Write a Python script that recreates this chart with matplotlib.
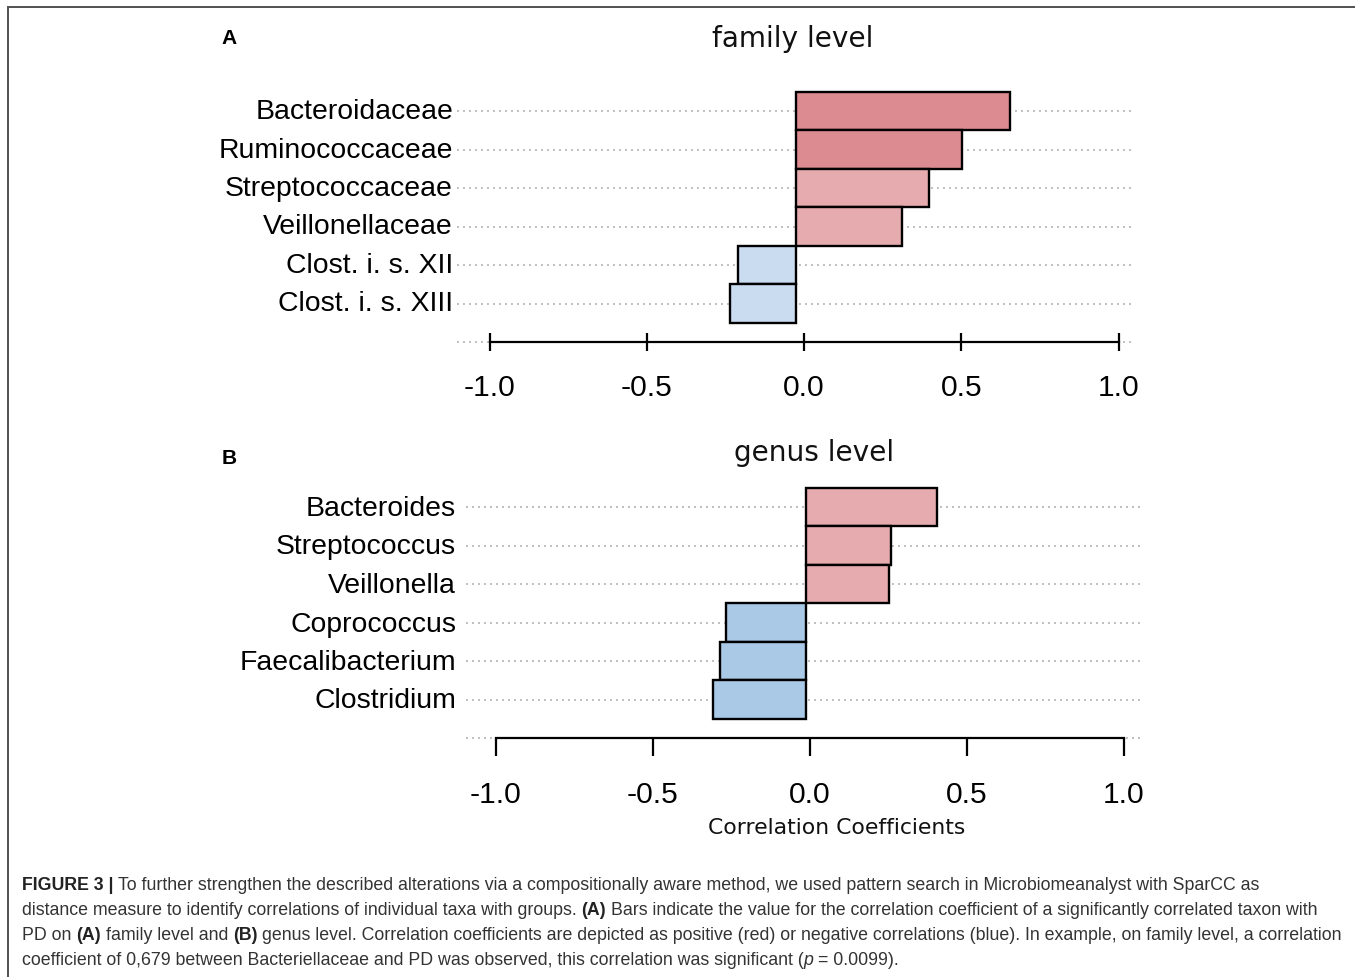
import matplotlib
matplotlib.use("Agg")
import matplotlib.pyplot as plt
from matplotlib.lines import Line2D
import matplotlib.transforms as mtrans

# ---------------- data ----------------
family_labels = ["Bacteroidaceae", "Ruminococcaceae", "Streptococcaceae",
                 "Veillonellaceae", "Clost. i. s. XII", "Clost. i. s. XIII"]
family_values = [0.679, 0.528, 0.423, 0.337, -0.184, -0.210]
family_colors = ["#dc8c90", "#dc8c90", "#e6abae", "#e6abae", "#c9dcf0", "#c9dcf0"]

genus_labels = ["Bacteroides", "Streptococcus", "Veillonella",
                "Coprococcus", "Faecalibacterium", "Clostridium"]
genus_values = [0.417, 0.271, 0.264, -0.255, -0.274, -0.296]
genus_colors = ["#e6abae", "#e6abae", "#e6abae", "#a9c9e7", "#a9c9e7", "#a9c9e7"]

tick_values = [-1.0, -0.5, 0.0, 0.5, 1.0]
tick_labels = ["-1.0", "-0.5", "0.0", "0.5", "1.0"]

# (text, weight, style, space_before)
caption_lines = [
    [("FIGURE 3 |", "bold", "normal", False),
     ("To further strengthen the described alterations via a compositionally aware method, we used pattern search in Microbiomeanalyst with SparCC as", "normal", "normal", True)],
    [("distance measure to identify correlations of individual taxa with groups.", "normal", "normal", False),
     ("(A)", "bold", "normal", True),
     ("Bars indicate the value for the correlation coefficient of a significantly correlated taxon with", "normal", "normal", True)],
    [("PD on", "normal", "normal", False), ("(A)", "bold", "normal", True),
     ("family level and", "normal", "normal", True), ("(B)", "bold", "normal", True),
     ("genus level. Correlation coefficients are depicted as positive (red) or negative correlations (blue). In example, on family level, a correlation", "normal", "normal", True)],
    [("coefficient of 0,679 between Bacteriellaceae and PD was observed, this correlation was significant (", "normal", "normal", False),
     ("p", "normal", "italic", False), ("= 0.0099).", "normal", "normal", True)],
]

# ---------------- figure ----------------
W, H, DPI = 1355, 978, 100
fig = plt.figure(figsize=(W / DPI, H / DPI), dpi=DPI)
fig.patch.set_facecolor("white")

PX = 72.0 / DPI  # points per pixel


def add_axes_px(x0, x1, y0, y1):
    return fig.add_axes([x0 / W, 1 - y1 / H, (x1 - x0) / W, (y1 - y0) / H])


def panel(ax_px, zero_px, scale, tick_zero_px, row0_px, row_step, labels, values,
          colors, tick_dir, label_pad_px, xtick_pad_px, label_lift_px):
    x0, x1, y0, y1 = ax_px
    ax = add_axes_px(x0, x1, y0, y1)
    ax.set_facecolor("none")
    ax.set_xlim((x0 - zero_px) / scale, (x1 - zero_px) / scale)
    ax.set_ylim((y1 - row0_px) / row_step, (y0 - row0_px) / row_step)
    rows = list(range(len(labels)))
    axis_row = len(labels)
    xl = ax.get_xlim()
    ax.hlines(rows + [axis_row], xl[0], xl[1], colors="#aaaaaa",
              linestyles=(0, (1.3, 2.7)), linewidth=1.5 * PX, zorder=1)
    ax.barh(rows, values, height=1.0, color=colors, edgecolor="black",
            linewidth=1.7, zorder=3)
    for s in ["top", "right", "left"]:
        ax.spines[s].set_visible(False)
    off = (tick_zero_px - zero_px) / scale
    ax.spines["bottom"].set_position(("data", axis_row))
    ax.spines["bottom"].set_bounds(tick_values[0] + off, tick_values[-1] + off)
    ax.spines["bottom"].set_linewidth(1.6)
    ax.spines["bottom"].set_zorder(4)
    ax.set_xticks([t + off for t in tick_values])
    ax.set_xticklabels(tick_labels, fontsize=30 * PX, family="Liberation Sans")
    ax.tick_params(axis="x", direction=tick_dir, length=18 * PX, width=1.6,
                   pad=xtick_pad_px * PX, colors="black")
    ax.set_yticks(rows)
    ax.set_yticklabels(labels, fontsize=28.4 * PX, family="Liberation Sans")
    ax.tick_params(axis="y", length=0, pad=label_pad_px * PX)
    lift = mtrans.ScaledTranslation(0, label_lift_px / DPI, fig.dpi_scale_trans)
    for lab in ax.get_yticklabels():
        lab.set_transform(lab.get_transform() + lift)
    return ax


axA = panel((457, 1132, 80, 360), 796, 314.5, 804, 112, 38.5,
            family_labels, family_values, family_colors, "inout", 4, 22, 3)
axB = panel((466, 1140, 476, 762), 806, 314.0, 810, 508, 38.5,
            genus_labels, genus_values, genus_colors, "out", 10, 24, 2)

# titles and panel letters
fig.text(793 / W, 1 - 39 / H, "family level", ha="center", va="center",
         fontsize=28 * PX, family="DejaVu Sans", color="#111111")
fig.text(814 / W, 1 - 453 / H, "genus level", ha="center", va="center",
         fontsize=28 * PX, family="DejaVu Sans", color="#111111")
fig.text(837 / W, 1 - 828 / H, "Correlation Coefficients", ha="center", va="center",
         fontsize=21.9 * PX, family="DejaVu Sans", color="#111111")
fig.text(229 / W, 1 - 38 / H, "A", ha="center", va="center",
         fontsize=21 * PX, family="Liberation Sans", weight="bold")
fig.text(229 / W, 1 - 459 / H, "B", ha="center", va="center",
         fontsize=21 * PX, family="Liberation Sans", weight="bold")

# frame
fig.add_artist(Line2D([8 / W, 1.0], [1 - 8 / H, 1 - 8 / H], transform=fig.transFigure,
                      color="#555555", linewidth=2 * PX))
fig.add_artist(Line2D([8 / W, 8 / W], [1 - 8 / H, 0.0], transform=fig.transFigure,
                      color="#555555", linewidth=2 * PX))

# caption
renderer = fig.canvas.get_renderer()
cap_size = 17.75 * PX
cap_color = "#333333"


def text_width(s, weight, style):
    t = fig.text(0, 0, s, fontsize=cap_size, family="Liberation Sans",
                 weight=weight, style=style)
    w = t.get_window_extent(renderer).width
    t.remove()
    return w


space_w = text_width("a a", "normal", "normal") - text_width("aa", "normal", "normal")
baselines = [890, 915, 940, 965]
for line, yb in zip(caption_lines, baselines):
    x = 22.0
    for s, weight, style, sp in line:
        if sp:
            x += space_w
        t = fig.text(x / W, 1 - yb / H, s, fontsize=cap_size, family="Liberation Sans",
                     weight=weight, style=style, va="baseline", ha="left",
                     color="#222222" if weight == "bold" else cap_color)
        x += t.get_window_extent(renderer).width

fig.savefig("out.png", dpi=DPI)
